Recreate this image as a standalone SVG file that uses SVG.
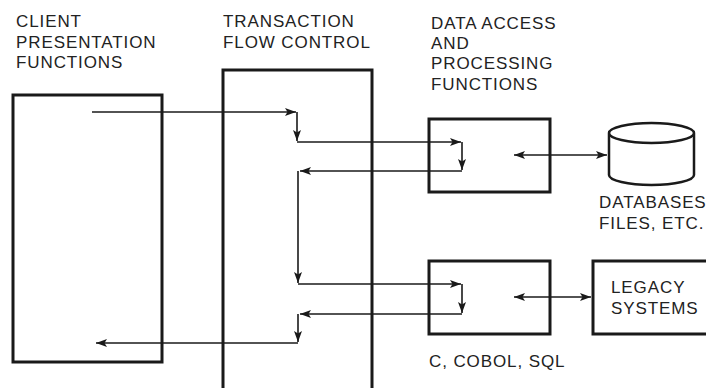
<svg xmlns="http://www.w3.org/2000/svg" width="706" height="388" viewBox="0 0 706 388">
<style>
.box{fill:none;stroke:#1a1a1a;stroke-width:3}
.ln{fill:none;stroke:#1a1a1a;stroke-width:1.6}
.t{font-family:"Liberation Sans",Arial,sans-serif;font-size:17px;letter-spacing:0.9px;fill:#222}
</style>
<defs>
<marker id="ah" markerUnits="userSpaceOnUse" markerWidth="12" markerHeight="10" refX="11" refY="4" orient="auto-start-reverse">
<path d="M0,0 L11,4 L0,8 L2.5,4 Z" fill="#1a1a1a"/>
</marker>
</defs>
<rect width="706" height="388" fill="#fff"/>
<g id="client">
<path class="box" d="M13,362 V95 H162 V362 Z"/>
<text class="t" x="16" y="27">CLIENT</text>
<text class="t" x="16" y="48">PRESENTATION</text>
<text class="t" x="16" y="68">FUNCTIONS</text>
</g>
<g id="transaction">
<path class="box" d="M223,388 V70 H372 V388"/>
<text class="t" x="223" y="27">TRANSACTION</text>
<text class="t" x="223" y="48">FLOW CONTROL</text>
</g>
<g id="data1">
<rect class="box" x="429" y="119" width="121" height="73"/>
<text class="t" x="431" y="29">DATA ACCESS</text>
<text class="t" x="431" y="49">AND</text>
<text class="t" x="431" y="69">PROCESSING</text>
<text class="t" x="431" y="90">FUNCTIONS</text>
</g>
<g id="data2">
<rect class="box" x="429" y="261" width="121" height="73"/>
<text class="t" x="429" y="367">C, COBOL, SQL</text>
</g>
<g id="databases">
<path class="box" style="stroke-width:2.5" d="M609,133 A42.5,10 0 0 1 694,133 A42.5,10 0 0 1 609,133 V175 A42.5,10 0 0 0 694,175 V133"/>
<text class="t" x="599" y="208">DATABASES</text>
<text class="t" x="599" y="229">FILES, ETC.</text>
</g>
<g id="legacy">
<path class="box" d="M712,261 H593 V334 H712"/>
<text class="t" x="611" y="293">LEGACY</text>
<text class="t" x="611" y="314">SYSTEMS</text>
</g>
<g id="connectors">
<path class="ln" d="M92,112 H296" marker-end="url(#ah)"/>
<path class="ln" d="M297,112 V141" marker-end="url(#ah)"/>
<path class="ln" d="M297,142 H461" marker-end="url(#ah)"/>
<path class="ln" d="M462,142 V170" marker-end="url(#ah)"/>
<path class="ln" d="M462,171 H300" marker-end="url(#ah)"/>
<path class="ln" d="M298,171 V283" marker-end="url(#ah)"/>
<path class="ln" d="M298,284 H461" marker-end="url(#ah)"/>
<path class="ln" d="M462,284 V313" marker-end="url(#ah)"/>
<path class="ln" d="M462,314 H300" marker-end="url(#ah)"/>
<path class="ln" d="M298,314 V342" marker-end="url(#ah)"/>
<path class="ln" d="M298,343 H96" marker-end="url(#ah)"/>
<path class="ln" d="M514,155 H607" marker-start="url(#ah)" marker-end="url(#ah)"/>
<path class="ln" d="M514,297 H591" marker-start="url(#ah)" marker-end="url(#ah)"/>
</g>
</svg>
